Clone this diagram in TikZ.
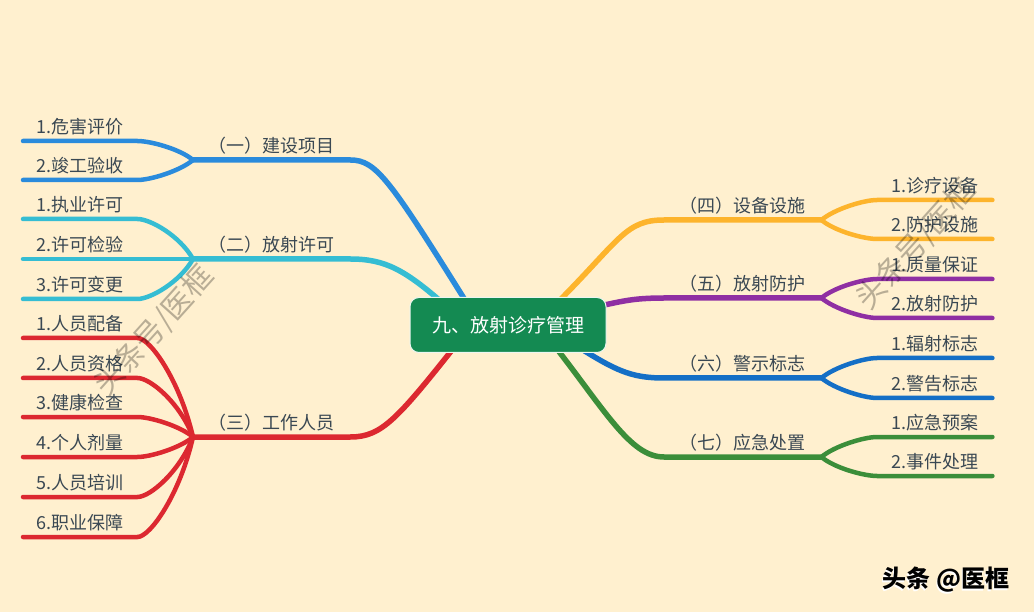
\documentclass[tikz,border=0pt]{standalone}
\usepackage{fontspec}
\setmainfont{Noto Sans CJK SC}
\usepackage{tikz}

\definecolor{cBg}{HTML}{FFF0CF}
\definecolor{cRoot}{HTML}{148A52}
\definecolor{txt}{HTML}{3A4853}
\definecolor{cBuild}{HTML}{2A8BDC}
\definecolor{cPermit}{HTML}{35BDD3}
\definecolor{cStaff}{HTML}{DC2830}
\definecolor{cEquip}{HTML}{FDB42C}
\definecolor{cProt}{HTML}{8F2FA3}
\definecolor{cSign}{HTML}{146FC6}
\definecolor{cEmerg}{HTML}{3B8E3A}

\begin{document}
\begin{tikzpicture}[x=1pt,y=-1pt,
    root/.style={rounded corners=9pt,fill=cRoot,draw=white!92!cRoot,line width=1pt,text=white,
      minimum width=196pt,minimum height=55pt,font=\fontsize{19pt}{21pt}\selectfont},
    branch/.style={anchor=south west,inner sep=0pt,text depth=7.5pt,minimum width=157pt,
      text=txt,font=\fontsize{18pt}{20pt}\selectfont},
    leaf/.style={branch,minimum width=114pt},
    wire/.style={line width=5.5pt,line cap=round},
    twig/.style={line width=4.5pt,line cap=round},
    wmark/.style={text=black,text opacity=0.28,rotate=48,font=\fontsize{30pt}{30pt}\selectfont},
    credit/.style={font=\bfseries\fontsize{24pt}{26pt}\selectfont}]
  \fill[cBg] (0,0) rectangle (1034,612);
  \coordinate (hub) at (508,325);

  % left side
  \node[branch] (build) at (193,160) {（一）建设项目};
  \node[leaf] (build_1) at (23,141) {1.危害评价};
  \node[leaf] (build_2) at (23,180) {2.竣工验收};
  \node[branch] (permit) at (193,259) {（二）放射许可};
  \node[leaf] (permit_1) at (23,219) {1.执业许可};
  \node[leaf] (permit_2) at (23,259) {2.许可检验};
  \node[leaf] (permit_3) at (23,299) {3.许可变更};
  \node[branch] (staff) at (193,437) {（三）工作人员};
  \node[leaf] (staff_1) at (23,338) {1.人员配备};
  \node[leaf] (staff_2) at (23,378) {2.人员资格};
  \node[leaf] (staff_3) at (23,417) {3.健康检查};
  \node[leaf] (staff_4) at (23,457) {4.个人剂量};
  \node[leaf] (staff_5) at (23,497) {5.人员培训};
  \node[leaf] (staff_6) at (23,537) {6.职业保障};

  % right side
  \node[branch] (equip) at (664,220) {（四）设备设施};
  \node[leaf,minimum width=115pt] (equip_1) at (877,200) {1.诊疗设备};
  \node[leaf,minimum width=115pt] (equip_2) at (877,239) {2.防护设施};
  \node[branch] (prot) at (664,298) {（五）放射防护};
  \node[leaf,minimum width=115pt] (prot_1) at (877,279) {1.质量保证};
  \node[leaf,minimum width=115pt] (prot_2) at (877,318) {2.放射防护};
  \node[branch] (sign) at (664,378) {（六）警示标志};
  \node[leaf,minimum width=115pt] (sign_1) at (877,358) {1.辐射标志};
  \node[leaf,minimum width=115pt] (sign_2) at (877,398) {2.警告标志};
  \node[branch] (emerg) at (664,457) {（七）应急处置};
  \node[leaf,minimum width=115pt] (emerg_1) at (877,437) {1.应急预案};
  \node[leaf,minimum width=115pt] (emerg_2) at (877,476) {2.事件处理};

  % twigs
  \draw[twig,cBuild] (build_1.south west) -- (build_1.south east) .. controls +(13,0) and +(-13,-11) .. (build.south west);
  \draw[twig,cBuild] (build_2.south west) -- (build_2.south east) .. controls +(13,0) and +(-13,11) .. (build.south west);
  \draw[twig,cPermit] (permit_1.south west) -- (permit_1.south east) .. controls +(13,0) and +(-13,-23) .. (permit.south west);
  \draw[twig,cPermit] (permit_2.south west) -- (permit.south west);
  \draw[twig,cPermit] (permit_3.south west) -- (permit_3.south east) .. controls +(13,0) and +(-13,23) .. (permit.south west);
  \draw[twig,cStaff] (staff_1.south west) -- (staff_1.south east) .. controls +(13,0) and +(-13,-56) .. (staff.south west);
  \draw[twig,cStaff] (staff_2.south west) -- (staff_2.south east) .. controls +(13,0) and +(-13,-34) .. (staff.south west);
  \draw[twig,cStaff] (staff_3.south west) -- (staff_3.south east) .. controls +(13,0) and +(-13,-11) .. (staff.south west);
  \draw[twig,cStaff] (staff_4.south west) -- (staff_4.south east) .. controls +(13,0) and +(-13,11) .. (staff.south west);
  \draw[twig,cStaff] (staff_5.south west) -- (staff_5.south east) .. controls +(13,0) and +(-13,34) .. (staff.south west);
  \draw[twig,cStaff] (staff_6.south west) -- (staff_6.south east) .. controls +(13,0) and +(-13,57) .. (staff.south west);
  \draw[twig,cEquip] (equip_1.south east) -- (equip_1.south west) .. controls +(-13,0) and +(13,-11) .. (equip.south east);
  \draw[twig,cEquip] (equip_2.south east) -- (equip_2.south west) .. controls +(-13,0) and +(13,11) .. (equip.south east);
  \draw[twig,cProt] (prot_1.south east) -- (prot_1.south west) .. controls +(-13,0) and +(13,-11) .. (prot.south east);
  \draw[twig,cProt] (prot_2.south east) -- (prot_2.south west) .. controls +(-13,0) and +(13,11) .. (prot.south east);
  \draw[twig,cSign] (sign_1.south east) -- (sign_1.south west) .. controls +(-13,0) and +(13,-11) .. (sign.south east);
  \draw[twig,cSign] (sign_2.south east) -- (sign_2.south west) .. controls +(-13,0) and +(13,11) .. (sign.south east);
  \draw[twig,cEmerg] (emerg_1.south east) -- (emerg_1.south west) .. controls +(-13,0) and +(13,-11) .. (emerg.south east);
  \draw[twig,cEmerg] (emerg_2.south east) -- (emerg_2.south west) .. controls +(-13,0) and +(13,11) .. (emerg.south east);

  % main branches
  \draw[wire,cBuild] (build.south west) -- (build.south east) .. controls +(26,0) and +(-80,-128) .. ([xshift=-38pt,yshift=17pt]hub);
  \draw[wire,cPermit] (permit.south west) -- (permit.south east) .. controls +(35,0) and +(-40,-35) .. ([xshift=-63pt,yshift=20pt]hub);
  \draw[wire,cStaff] (staff.south west) -- (staff.south east) .. controls +(32,0) and +(-62,78) .. ([xshift=-48pt,yshift=-15pt]hub);
  \draw[wire,cEquip] (equip.south east) -- (equip.south west) .. controls +(-39,0) and +(65,-65) .. ([xshift=47pt,yshift=20pt]hub);
  \draw[wire,cProt] (prot.south east) -- (prot.south west) .. controls +(-34,0) and +(30,-6) .. ([xshift=82pt,yshift=17pt]hub);
  \draw[wire,cSign] (sign.south east) -- (sign.south west) .. controls +(-34,0) and +(40,25) .. ([xshift=67pt,yshift=-20pt]hub);
  \draw[wire,cEmerg] (emerg.south east) -- (emerg.south west) .. controls +(-34,0) and +(55,70) .. ([xshift=42pt,yshift=-15pt]hub);

  \node[root] (top) at (hub) {九、放射诊疗管理};

  % marks
  \node[wmark] (mark_left) at (154,331) {头条号/医框};
  \node[wmark] (mark_right) at (916,245) {头条号/医框};
  \node[credit,text=white] (credit_shadow) at (945,582) {头条 @医框};
  \node[credit,text=black] (credit) at (946,580) {头条 @医框};
\end{tikzpicture}
\end{document}
